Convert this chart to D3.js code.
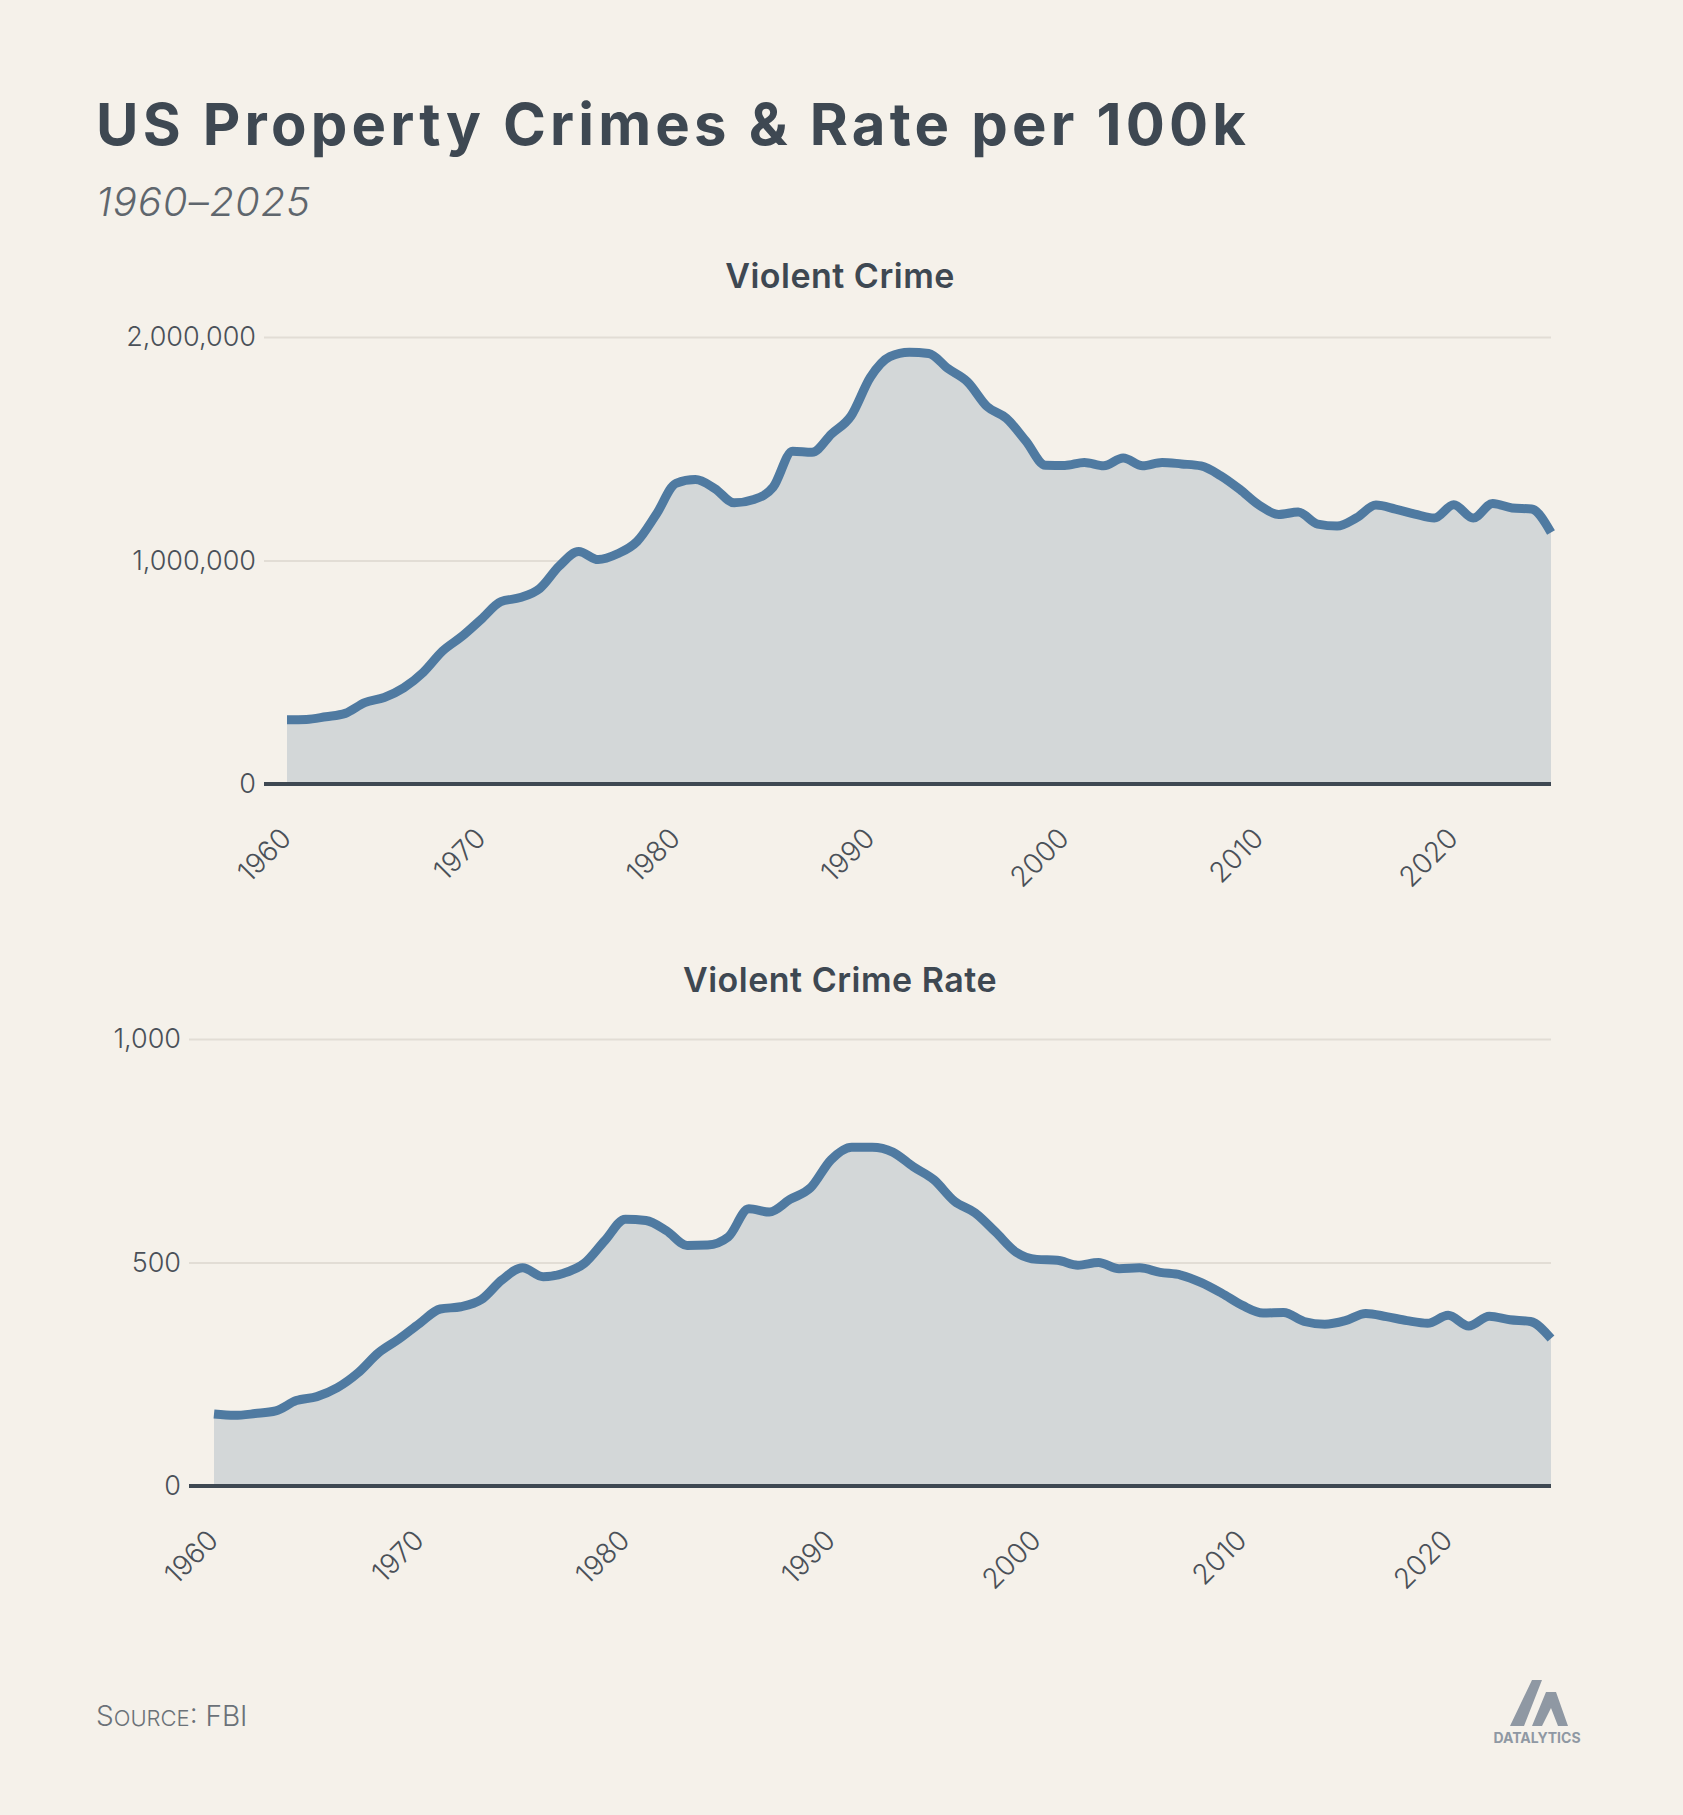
<!DOCTYPE html>
<html><head><meta charset="utf-8">
<script src="https://cdn.jsdelivr.net/npm/d3@7"></script>
<style>
body{margin:0;background:#f5f1ea;}
text{font-family:Inter,"Noto Sans",sans-serif;}
</style></head>
<body><svg></svg>
<script>
// years and values
let years = d3.range(1960, 2026)
let crimes = [288000,289000,301000,316000,364000,387000,430000,499000,595000,661000,
  738000,816000,834000,875000,975000,1040000,1004000,1030000,1085000,1208000,
  1345000,1362000,1322000,1258000,1273000,1328000,1489000,1484000,1566000,1646000,
  1820000,1912000,1932000,1926000,1858000,1799000,1689000,1636000,1534000,1426000,
  1425000,1439000,1424000,1459000,1424000,1439000,1432000,1423000,1380000,1318000,
  1247000,1206000,1217000,1163000,1154000,1191000,1248000,1230000,1208000,1190000,
  1250000,1190000,1255000,1235000,1230000,1125000]
let rates = [161,158,162,168,191,200,220,253,298,329,
  364,396,401,417,461,488,468,476,498,549,
  597,594,571,538,539,557,620,613,641,667,
  730,758,758,747,714,685,637,611,568,523,
  507,505,494,500,486,488,478,472,455,431,
  404,387,388,368,362,370,386,379,370,364,
  382,358,380,372,368,330]
let crimeTicks = [0, 1000000, 2000000]
let rateTicks = [0, 500, 1000]
let decadeTicks = [1960,1970,1980,1990,2000,2010,2020]

let width = 1683, height = 1815
let ink = '#3e4852'
let svg = d3.select('svg').attr('width', width).attr('height', height)

svg.append('text').attr('x', 96).attr('y', 145).attr('fill', ink)
  .attr('font-size', 58).attr('font-weight', 700).attr('letter-spacing', 4.2)
  .text('US Property Crimes & Rate per 100k')
svg.append('text').attr('x', 96).attr('y', 216).attr('fill', '#5f666d')
  .attr('font-size', 40).attr('font-style', 'italic').attr('font-weight', 300)
  .attr('letter-spacing', 1).text('1960–2025')

let drawPanel = (opt) => {
  let x = d3.scaleLinear().domain([1960, 2025]).range([opt.x0, 1551])
  let y = d3.scaleLinear().domain([0, opt.max]).range([opt.yBottom, opt.yTop])
  let g = svg.append('g')
  g.append('text').attr('x', 840).attr('y', opt.titleY).attr('text-anchor', 'middle')
    .attr('fill', ink).attr('font-size', 34).attr('font-weight', 600).attr('letter-spacing', 0.5)
    .text(opt.title)

  let yAxis = d3.axisLeft(y).tickValues(opt.ticks).tickSize(-(1551 - opt.axisStart))
    .tickFormat(d3.format(','))
  let ga = g.append('g').attr('transform', 'translate(' + opt.axisStart + ',0)').call(yAxis)
  ga.select('.domain').remove()
  ga.selectAll('line').attr('stroke', '#e2ddd5').attr('stroke-width', 2)
  ga.selectAll('text').attr('x', -8).attr('font-size', 27).attr('fill', '#4a5058').attr('font-weight', 300)

  let area = d3.area().x((d, i) => x(years[i])).y0(y(0)).y1(d => y(d)).curve(d3.curveMonotoneX)
  let line = d3.line().x((d, i) => x(years[i])).y(d => y(d)).curve(d3.curveMonotoneX)
  g.append('path').datum(opt.values).attr('d', area).attr('fill', '#d3d7d8')
  g.append('path').datum(opt.values).attr('d', line).attr('fill', 'none')
    .attr('stroke', '#4f7aa1').attr('stroke-width', 9).attr('stroke-linejoin', 'round')

  g.append('line').attr('x1', opt.axisStart).attr('x2', 1551)
    .attr('y1', y(0)).attr('y2', y(0)).attr('stroke', ink).attr('stroke-width', 4)

  g.selectAll('.yr').data(decadeTicks).enter().append('text')
    .attr('font-size', 28).attr('fill', '#4a5058').attr('font-weight', 300)
    .attr('text-anchor', 'end')
    .attr('transform', d => 'translate(' + (x(d) + 6) + ',' + (y(0) + 56) + ') rotate(-45)')
    .text(d => d)
}

drawPanel({title: 'Violent Crime', titleY: 288, values: crimes, max: 2000000, ticks: crimeTicks,
  x0: 287, axisStart: 264, yTop: 337, yBottom: 784})
drawPanel({title: 'Violent Crime Rate', titleY: 992, values: rates, max: 1000, ticks: rateTicks,
  x0: 214, axisStart: 189, yTop: 1039, yBottom: 1486})

let src = svg.append('text').attr('x', 96).attr('y', 1726).attr('fill', '#6b7178')
  .attr('font-size', 28).attr('font-weight', 300)
src.append('tspan').text('S')
src.append('tspan').attr('font-size', 22).text('OURCE')
src.append('tspan').text(': FBI')

// logo
let lg = svg.append('g').attr('transform', 'translate(1510,1680)').attr('fill', '#8f98a3')
lg.append('path').attr('d', 'M0,46 L22,0 L32,0 L14,46 Z M22,46 L36,12 L46,12 L58,46 L48,46 L41,28 L32,46 Z')
svg.append('text').attr('x', 1537).attr('y', 1743).attr('text-anchor', 'middle')
  .attr('font-size', 14).attr('font-weight', 700).attr('fill', '#8f98a3').text('DATALYTICS')
</script></body></html>
